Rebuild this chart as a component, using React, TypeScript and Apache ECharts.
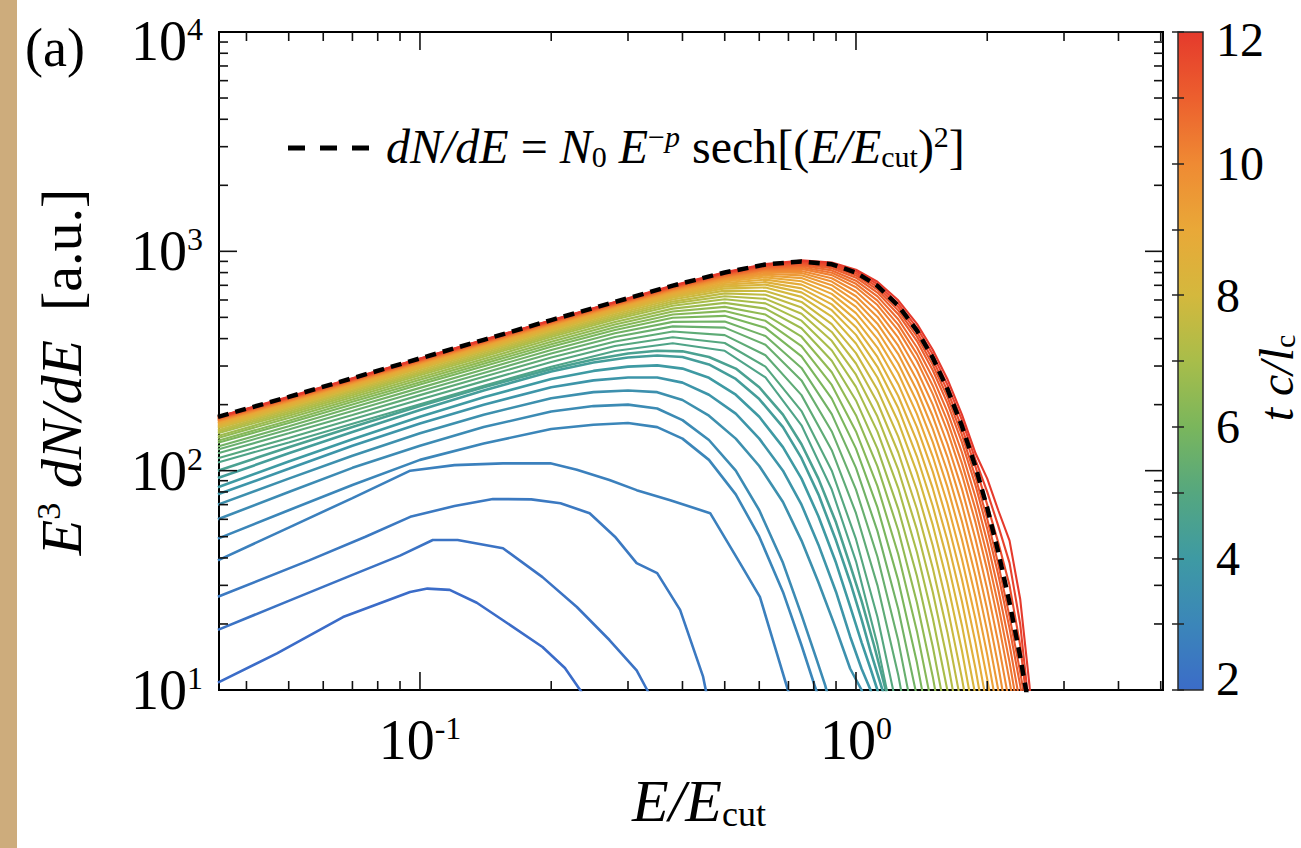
import React, { useEffect, useRef } from "react";
import * as echarts from "echarts";

const SERIF = '"Liberation Serif", "Times New Roman", serif';
const NB = "\u00A0";

// ---------- data ----------
// energy grid (E / E_cut) shared by the later spectra and by the fit
const E_GRID = [0.0344, 0.05, 0.07, 0.1, 0.14, 0.2, 0.28, 0.38, 0.5, 0.62, 0.75, 0.88, 1.0, 1.12, 1.25, 1.38, 1.5, 1.62, 1.75, 1.88, 2.0, 2.12, 2.25, 2.38, 2.5, 2.62];

// dashed fit  dN/dE = N0 E^-p sech[(E/Ecut)^2]  (E^3 dN/dE)
const FIT_VALUES = [176, 217, 264, 325, 395, 486, 588, 698, 801, 871, 899, 873, 800, 696, 565, 435, 327, 236, 159.5, 104, 67.6, 42.6, 25, 14.2, 8.1, 4.5];

// early spectra, t c / l_c = 2 ... 4.5, as [E/Ecut, E^3 dN/dE]
const EARLY_TIMES = [2.0, 2.25, 2.5, 2.75, 3.0, 3.25, 3.5, 3.75, 4.0, 4.25, 4.5];
const EARLY_SPECTRA = [
  [[0.0344, 10.8], [0.047, 14.7], [0.0666, 21.5], [0.0949, 28], [0.104, 29], [0.117, 28.6], [0.135, 25], [0.155, 20.8], [0.191, 15.7], [0.215, 12.6], [0.233, 10], [0.25, 8]],
  [[0.0344, 18.8], [0.05, 25.5], [0.07, 33.5], [0.09, 41], [0.107, 48.3], [0.122, 48.3], [0.155, 44.3], [0.191, 32.7], [0.229, 23.9], [0.272, 16.9], [0.314, 12.3], [0.332, 10], [0.35, 8]],
  [[0.0344, 26.6], [0.0557, 39], [0.075, 50], [0.095, 61.6], [0.12, 69], [0.147, 74.3], [0.18, 74], [0.21, 71], [0.245, 64], [0.28, 50], [0.314, 37.9], [0.35, 34.1], [0.395, 23.2], [0.446, 11.5], [0.46, 8.5]],
  [[0.0344, 39], [0.05, 55], [0.07, 75], [0.095, 100], [0.12, 106], [0.155, 108], [0.199, 108], [0.229, 101], [0.272, 90.6], [0.314, 81.5], [0.375, 73.3], [0.463, 64], [0.542, 37.9], [0.602, 26.6], [0.65, 16], [0.698, 10], [0.72, 8]],
  [[0.0344, 49], [0.05, 66], [0.07, 86], [0.1, 112], [0.14, 133], [0.2, 155], [0.25, 162], [0.3, 165], [0.35, 158], [0.4, 140], [0.46, 112], [0.53, 78], [0.6, 50], [0.68, 28], [0.75, 16], [0.81, 10], [0.85, 7.5]],
  [[0.0344, 60], [0.05, 80], [0.07, 103], [0.1, 130], [0.14, 158], [0.2, 186], [0.25, 197], [0.3, 200], [0.35, 192], [0.4, 170], [0.46, 138], [0.53, 100], [0.6, 66], [0.68, 38], [0.75, 22], [0.81, 14], [0.85, 10.5], [0.88, 8]],
  [[0.0344, 70], [0.05, 92], [0.07, 117], [0.1, 148], [0.14, 180], [0.2, 214], [0.25, 228], [0.3, 232], [0.35, 228], [0.4, 210], [0.46, 178], [0.53, 140], [0.6, 105], [0.68, 72], [0.75, 48], [0.82, 31], [0.9, 19], [0.97, 12.5], [1.03, 10], [1.06, 8]],
  [[0.0344, 78], [0.05, 102], [0.07, 130], [0.1, 164], [0.14, 200], [0.2, 240], [0.25, 258], [0.3, 266], [0.35, 266], [0.4, 252], [0.46, 222], [0.53, 182], [0.6, 140], [0.68, 100], [0.75, 70], [0.82, 46], [0.9, 28], [0.97, 17.5], [1.03, 12.5], [1.08, 10], [1.12, 7.5]],
  [[0.0344, 84], [0.05, 110], [0.07, 139], [0.1, 176], [0.14, 216], [0.2, 262], [0.25, 285], [0.3, 298], [0.35, 302], [0.4, 292], [0.46, 265], [0.53, 222], [0.6, 176], [0.68, 128], [0.75, 92], [0.82, 62], [0.9, 38], [0.97, 24], [1.03, 16.5], [1.08, 12.5], [1.12, 10], [1.16, 7.5]],
  [[0.0344, 92.5], [0.05, 120], [0.07, 150], [0.1, 189], [0.14, 232], [0.2, 283], [0.25, 311], [0.3, 328], [0.35, 335], [0.4, 330], [0.46, 305], [0.53, 262], [0.6, 212], [0.68, 158], [0.75, 114], [0.82, 78], [0.9, 48], [0.97, 31], [1.03, 21], [1.08, 15], [1.15, 10], [1.2, 7]],
  [[0.0344, 100], [0.05, 128], [0.07, 158], [0.1, 197], [0.14, 240], [0.2, 291], [0.25, 321], [0.3, 342], [0.35, 352], [0.4, 350], [0.46, 330], [0.53, 292], [0.6, 240], [0.68, 180], [0.75, 132], [0.82, 92], [0.9, 58], [0.97, 37], [1.03, 25.5], [1.1, 16], [1.17, 10], [1.22, 7]],
];

// later spectra, t c / l_c = 4.75 ... 12, values on E_GRID
const LATE_TIMES = [4.75, 5.0, 5.25, 5.5, 5.75, 6.0, 6.25, 6.5, 6.75, 7.0, 7.25, 7.5, 7.75, 8.0, 8.25, 8.5, 8.75, 9.0, 9.25, 9.5, 9.75, 10.0, 10.25, 10.5, 10.75, 11.0, 11.25, 11.5, 11.75, 12.0];
const LATE_SPECTRA = [
  [109, 134.5, 163.5, 201, 244, 298, 351, 381, 352, 266, 161, 82, 38.6, 16.1, 5.6],
  [114, 141, 171.5, 211, 256, 313, 370, 406, 382, 298, 187, 100, 48.7, 21.5, 7.8],
  [120, 148, 179.5, 221, 268, 328, 388, 431, 415, 336, 221, 124, 64, 30, 11.7, 4.1],
  [125, 154, 187, 230, 279, 342, 407, 455, 449, 375, 258, 151, 82, 40.5, 16.8, 6.2],
  [129, 159.5, 194, 238.5, 289, 355, 423, 477, 479, 411, 294, 181, 103, 53, 23.4, 9.3],
  [134, 165, 200.5, 247, 299, 367, 438, 498, 508, 448, 332, 213, 126, 68, 31.6, 13.3, 5.5],
  [137, 169, 206, 253, 307, 377, 451, 515, 534, 482, 370, 246, 151, 85, 41.6, 18.5, 8.1],
  [141, 174, 211, 260, 315, 387, 464, 532, 558, 515, 408, 281, 179, 104.6, 53.5, 25, 11.5, 4.9],
  [144, 178, 216, 266, 323, 397, 476, 548, 582, 548, 446, 317, 209, 126, 67, 33, 15.8, 7.1],
  [148, 182, 221, 272, 331, 407, 489, 565, 605, 579, 483, 354, 241, 150.6, 83.3, 42.5, 21.3, 10.0, 4.1],
  [150.5, 185.5, 225.5, 277, 337, 414, 498, 578, 624, 607, 519, 391, 274, 176.5, 101, 53.7, 28, 13.7, 5.9],
  [153, 189, 229.5, 282, 343, 421.5, 507.5, 590, 643, 634, 554, 429, 308, 204.6, 121, 66.7, 36, 18.4, 8.3],
  [156, 192, 233, 287, 349, 429, 517, 603, 662, 659, 588, 466, 343.5, 234, 143, 81.4, 45.6, 24, 11.3, 5.0],
  [158, 195, 237, 292, 355, 436, 526, 615, 678, 684, 620, 504, 380, 266, 167, 98, 56.6, 30.9, 15.1, 6.9],
  [160, 197.5, 240, 295, 359, 441, 532, 624, 692, 705, 650, 539, 416, 297.5, 193, 116, 69, 39, 19.7, 9.4, 4.5],
  [162, 199, 242.5, 298, 362.5, 446, 539, 632, 705, 724, 678, 573, 451, 330, 219, 136, 83, 48.3, 25.3, 12.5, 6.2],
  [164, 202, 245, 302, 367, 451, 545, 640, 717, 743, 705, 607, 487, 364, 248, 158, 99, 59, 32, 16.4, 8.4],
  [165, 204, 248, 305, 370.5, 456, 551, 649, 729, 761, 731, 640, 523, 399, 278, 181, 116, 71, 39.6, 21, 11.2, 5.7],
  [167, 205.5, 250, 307.5, 374, 460, 556, 655, 739, 776, 755, 671, 558, 433.5, 308, 206, 135, 84.6, 48.5, 26.5, 14.5, 7.6],
  [168, 207, 252, 310, 376.6, 463, 560.5, 661, 748, 790, 777, 701, 592, 468, 340, 232, 155, 99.4, 58.6, 32.9, 18.5, 10.0, 5.3],
  [169, 208, 253, 311.5, 378.7, 466, 564, 666, 755, 803, 796, 728, 624, 502, 371.5, 259, 177, 116, 70, 40.2, 23.2, 12.9, 6.5],
  [170, 209, 255, 313, 381, 468, 567, 670, 762, 815, 814, 754, 656, 536, 404, 287, 200, 133, 82.4, 48.7, 28.8, 16.4, 8.6],
  [170.7, 210.5, 256, 315, 383, 471, 570, 674, 769, 825, 832, 779, 686, 569, 436, 316, 224, 152, 96, 58.1, 35.2, 20.5, 11.0, 5.7],
  [171.6, 211.6, 257.4, 317, 385, 473.4, 573, 678.5, 775, 834, 846, 799, 711, 596, 463, 340, 244, 168.6, 108, 66.6, 41, 24.4, 13.4, 7.0],
  [172.5, 212.7, 258.7, 318, 387, 476, 576, 682.5, 781, 843, 859, 818.5, 735, 623, 490, 364.5, 265.4, 185.8, 121, 75.7, 47.4, 28.7, 16.1, 8.6],
  [173.4, 213.7, 260, 320, 389, 478, 579, 686.5, 786, 852, 872, 837, 758, 649, 517, 390, 287, 203.6, 134.6, 85.7, 54.4, 33.5, 19.1, 10.5, 5.8],
  [174, 215, 261, 321.6, 391, 480.7, 582, 690.4, 791.5, 859, 883, 852, 776, 669.5, 538, 409, 304, 217.7, 145.6, 93.5, 60.2, 37.5, 21.6, 12.1, 6.8],
  [175, 215.5, 262, 322.6, 392, 482, 584, 693, 795, 864, 892, 865, 793, 689, 558, 428, 321, 232, 156.7, 104, 70, 47, 30, 16, 7],
  [175.5, 216, 263, 324, 393.7, 484, 586, 695.5, 799, 870.6, 901, 878, 809.6, 708, 578, 448, 339, 247, 170, 112, 80, 56, 38, 20, 8, 3],
  [176, 217, 264, 325, 395, 485.6, 588, 698, 803, 876, 909, 890, 825, 726.5, 598, 467, 356, 262, 180, 120, 92, 66, 48, 26, 10.5, 3],
];

// axes
const X_MIN = 0.0346;
const X_MAX = 5.06;
const Y_MIN = 10;
const Y_MAX = 10000;
const X_MAJOR = [0.1, 1];
const X_MINOR = [0.04, 0.05, 0.06, 0.07, 0.08, 0.09, 0.2, 0.3, 0.4, 0.5, 0.6, 0.7, 0.8, 0.9, 2, 3, 4, 5];
const Y_MAJOR = [100, 1000];
const Y_MINOR = [20, 30, 40, 50, 60, 70, 80, 90, 200, 300, 400, 500, 600, 700, 800, 900, 2000, 3000, 4000, 5000, 6000, 7000, 8000, 9000];
const CBAR_MIN = 2;
const CBAR_MAX = 12;

// colour map of the time colour bar
const CMAP_T = [2, 3, 4, 5, 6, 7, 8, 9, 10, 11, 12];
const CMAP_C = ["#3b6cc8", "#3b86b9", "#3e9aa3", "#55a77f", "#7ab65c", "#a8bd4a", "#d4b83d", "#e9a838", "#ef8a33", "#ec5f2e", "#e53a2c"];

function hexToRgb(h: string) {
  return [parseInt(h.slice(1, 3), 16), parseInt(h.slice(3, 5), 16), parseInt(h.slice(5, 7), 16)];
}
function colorAt(t: number) {
  if (t <= CMAP_T[0]) return CMAP_C[0];
  for (let i = 0; i < CMAP_T.length - 1; i++) {
    if (t <= CMAP_T[i + 1]) {
      const f = (t - CMAP_T[i]) / (CMAP_T[i + 1] - CMAP_T[i]);
      const a = hexToRgb(CMAP_C[i]);
      const b = hexToRgb(CMAP_C[i + 1]);
      const c = a.map((v, k) => Math.round(v + (b[k] - v) * f));
      return `rgb(${c[0]},${c[1]},${c[2]})`;
    }
  }
  return CMAP_C[CMAP_C.length - 1];
}

const TXT = { fontFamily: SERIF, color: "#000" };

function powerLabel(v: number) {
  const l = Math.log10(v);
  const r = Math.round(l);
  if (Math.abs(l - r) > 1e-6) return "";
  // the top label sits just below the frame corner: an empty first line pushes it down
  if (Math.abs(v - Y_MAX) < 1e-6) return `{gap|${NB}}\n{b|10}{s|${r}}`;
  return `{b|10}{s|${r}}`;
}

const tickRich = {
  b: { ...TXT, fontSize: 56, lineHeight: 56 },
  s: { ...TXT, fontSize: 32, lineHeight: 32, verticalAlign: "top" },
  gap: { ...TXT, fontSize: 4, lineHeight: 18 },
};

export default function App() {
  const ref = useRef<HTMLDivElement>(null);

  useEffect(() => {
    if (!ref.current) return;
    const chart = echarts.init(ref.current, null, { renderer: "svg" });

    const series: any[] = [];
    EARLY_SPECTRA.forEach((pts, i) => {
      series.push({
        type: "line",
        xAxisIndex: 0,
        yAxisIndex: 0,
        data: pts,
        showSymbol: false,
        symbol: "none",
        silent: true,
        z: 2,
        lineStyle: { width: 2.6, color: colorAt(EARLY_TIMES[i]) },
      });
    });
    LATE_SPECTRA.forEach((vals, i) => {
      series.push({
        type: "line",
        xAxisIndex: 0,
        yAxisIndex: 0,
        data: vals.map((v, k) => [E_GRID[k], v]),
        showSymbol: false,
        symbol: "none",
        silent: true,
        z: 2,
        lineStyle: { width: 2.1, color: colorAt(LATE_TIMES[i]) },
      });
    });
    series.push({
      type: "line",
      name: "fit",
      xAxisIndex: 0,
      yAxisIndex: 0,
      data: FIT_VALUES.map((v, k) => [E_GRID[k], v]),
      showSymbol: false,
      symbol: "none",
      silent: true,
      z: 3,
      lineStyle: { width: 4.5, color: "#000", type: [11, 7] },
    });

    const stops = CMAP_T.map((t, i) => ({ offset: (t - CBAR_MIN) / (CBAR_MAX - CBAR_MIN), color: CMAP_C[i] }));
    series.push({
      type: "custom",
      xAxisIndex: 1,
      yAxisIndex: 1,
      silent: true,
      z: 1,
      data: [[0, CBAR_MIN, CBAR_MAX]],
      renderItem: (params: any, api: any) => {
        const lo = api.coord([0, api.value(1)]);
        const hi = api.coord([1, api.value(2)]);
        return {
          type: "rect",
          shape: { x: lo[0], y: hi[1], width: hi[0] - lo[0], height: lo[1] - hi[1] },
          style: {
            fill: new echarts.graphic.LinearGradient(0, 1, 0, 0, stops),
            stroke: "#2a2a2a",
            lineWidth: 1.5,
          },
        };
      },
    });

    const option: any = {
      animation: false,
      backgroundColor: "#ffffff",
      grid: [
        { left: 219, top: 32, width: 944, height: 658, show: true, borderColor: "#000", borderWidth: 2, backgroundColor: "#fff" },
        { left: 1178, top: 32, width: 26, height: 658 },
      ],
      xAxis: [
        {
          gridIndex: 0,
          type: "log",
          logBase: 10,
          min: X_MIN,
          max: X_MAX,
          axisLine: { show: false },
          axisTick: { show: false },
          splitLine: { show: false },
          axisLabel: { margin: 22, fontSize: 56, fontFamily: SERIF, formatter: powerLabel, rich: tickRich },
          name: "{i|E/E}{sub|cut}",
          nameLocation: "middle",
          nameGap: 80,
          nameMoveOverlap: false,
          nameTextStyle: {
            padding: [0, 0, 0, 16],
            rich: {
              i: { ...TXT, fontSize: 60, lineHeight: 62, fontStyle: "italic" },
              sub: { ...TXT, fontSize: 36, lineHeight: 20, verticalAlign: "bottom" },
            },
          },
        },
        { gridIndex: 1, type: "value", min: 0, max: 1, show: false },
      ],
      yAxis: [
        {
          gridIndex: 0,
          type: "log",
          logBase: 10,
          min: Y_MIN,
          max: Y_MAX,
          axisLine: { show: false },
          axisTick: { show: false },
          splitLine: { show: false },
          axisLabel: { margin: 16, fontSize: 56, fontFamily: SERIF, formatter: powerLabel, rich: tickRich },
          name: `{i|E}{sup|3}{i|${NB}dN/dE}{r|${NB}${NB}[a.u.]}`,
          nameLocation: "middle",
          nameRotate: 90,
          nameGap: 128,
          nameTextStyle: {
            padding: [0, 22, 0, 0],
            rich: {
              i: { ...TXT, fontSize: 58, lineHeight: 60, fontStyle: "italic" },
              r: { ...TXT, fontSize: 58, lineHeight: 60 },
              sup: { ...TXT, fontSize: 34, lineHeight: 34, verticalAlign: "top" },
            },
          },
        },
        {
          gridIndex: 1,
          type: "value",
          min: CBAR_MIN,
          max: CBAR_MAX,
          interval: 1,
          position: "right",
          z: 10,
          axisLine: { show: false },
          splitLine: { show: false },
          axisTick: { show: true, inside: true, length: 6, lineStyle: { color: "#222", width: 1.5 } },
          axisLabel: {
            margin: 13,
            fontSize: 48,
            fontFamily: SERIF,
            color: "#000",
            formatter: (v: number) => {
              if (v === CBAR_MAX) return `{t|${v}}`;
              if (v === CBAR_MIN) return `{m|${v}}`;
              return v % 2 === 0 ? `{n|${v}}` : "";
            },
            rich: {
              n: { ...TXT, fontSize: 48, lineHeight: 48 },
              t: { ...TXT, fontSize: 48, lineHeight: 48, padding: [14, 0, 0, 0] },
              m: { ...TXT, fontSize: 48, lineHeight: 48, padding: [0, 0, 24, 0] },
            },
          },
          name: "{i|t c/l}{sub|c}",
          nameLocation: "middle",
          nameRotate: 90,
          nameGap: 50,
          nameMoveOverlap: false,
          nameTextStyle: {
            padding: [0, 34, 0, 0],
            rich: {
              i: { ...TXT, fontSize: 48, lineHeight: 46, fontStyle: "italic" },
              sub: { ...TXT, fontSize: 30, lineHeight: 16, verticalAlign: "bottom" },
            },
          },
        },
        {
          gridIndex: 1,
          type: "value",
          min: CBAR_MIN,
          max: CBAR_MAX,
          interval: 1,
          position: "left",
          z: 10,
          axisLine: { show: false },
          splitLine: { show: false },
          axisTick: { show: true, inside: true, length: 6, lineStyle: { color: "#222", width: 1.5 } },
          axisLabel: { show: false },
        },
      ],
      series,
    };
    chart.setOption(option);

    // ticks on all four sides of the main frame, placed through the axes' own scales
    const cx = (v: number) => chart.convertToPixel({ xAxisIndex: 0 }, v) as number;
    const cy = (v: number) => chart.convertToPixel({ yAxisIndex: 0 }, v) as number;
    const left = cx(X_MIN);
    const right = cx(X_MAX);
    const top = cy(Y_MAX);
    const bottom = cy(Y_MIN);
    const els: any[] = [];
    const seg = (x1: number, y1: number, x2: number, y2: number) =>
      els.push({ type: "line", silent: true, z: 20, shape: { x1, y1, x2, y2 }, style: { stroke: "#111", lineWidth: 1.6 } });
    const MAJ = 18;
    const MIN = 9;
    X_MAJOR.forEach((v) => { const x = cx(v); seg(x, bottom, x, bottom - MAJ); seg(x, top, x, top + MAJ); });
    X_MINOR.forEach((v) => { const x = cx(v); seg(x, bottom, x, bottom - MIN); seg(x, top, x, top + MIN); });
    Y_MAJOR.forEach((v) => { const y = cy(v); seg(left, y, left + MAJ, y); seg(right, y, right - MAJ, y); });
    Y_MINOR.forEach((v) => { const y = cy(v); seg(left, y, left + MIN, y); seg(right, y, right - MIN, y); });

    const LEG_Y = 146;
    els.push({ type: "rect", silent: true, z: 0, shape: { x: 0, y: 0, width: 17, height: 848 }, style: { fill: "#cdac7c" } });
    els.push({
      type: "text", silent: true, z: 20, x: 25, y: 48,
      style: { text: "(a)", fontFamily: SERIF, fontSize: 54, fill: "#000", verticalAlign: "middle" },
    });
    els.push({
      type: "line", silent: true, z: 20,
      shape: { x1: 288, y1: LEG_Y + 2, x2: 370, y2: LEG_Y + 2 },
      style: { stroke: "#000", lineWidth: 5, lineDash: [17, 15] },
    });
    els.push({
      type: "text", silent: true, z: 20, x: 386, y: LEG_Y,
      style: {
        text: `{i|dN/dE}{r|${NB}=${NB}}{i|N}{sub|0}{r|${NB}}{i|E}{sup|−}{supi|p}{r|${NB}sech[(}{i|E/E}{sub|cut}{r|)}{sup|2}{r|]}`,
        verticalAlign: "middle",
        rich: {
          i: { fontFamily: SERIF, fontSize: 48, lineHeight: 50, fontStyle: "italic", fill: "#000" },
          r: { fontFamily: SERIF, fontSize: 48, lineHeight: 50, fill: "#000" },
          sub: { fontFamily: SERIF, fontSize: 30, lineHeight: 16, verticalAlign: "bottom", fill: "#000" },
          sup: { fontFamily: SERIF, fontSize: 30, lineHeight: 29, verticalAlign: "top", fill: "#000" },
          supi: { fontFamily: SERIF, fontSize: 30, lineHeight: 29, verticalAlign: "top", fontStyle: "italic", fill: "#000" },
        },
      },
    });
    chart.setOption({ graphic: els });

    return () => chart.dispose();
  }, []);

  return (
    <div
      ref={ref}
      style={{ position: "fixed", left: 0, top: 0, width: 1301, height: 848, background: "#fff" }}
    />
  );
}
